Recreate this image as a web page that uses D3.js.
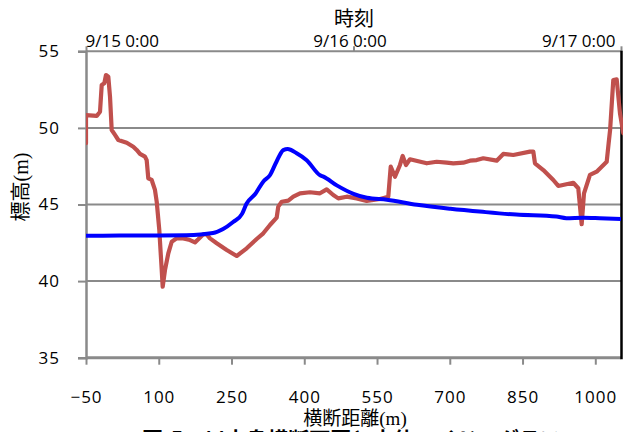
<!DOCTYPE html>
<html><head><meta charset="utf-8">
<script src="https://cdn.jsdelivr.net/npm/d3@7"></script>
<style>
html,body{margin:0;padding:0;background:#fff;overflow:hidden}
svg{display:block}
</style></head>
<body>
<svg id="c" width="623" height="432"></svg>
<script>
// Cross-section (横断距離 m vs 標高 m)
const sectionDist = [-50,-50,-27.9,-21.1,-17.6,-12.3,-8.8,-4.0,-0.5,3.0,9.8,16.6,33.9,47.5,54.5,61.3,71.6,75.1,78.4,85.4,92.2,95.8,101.1,106.1,108.1,112.9,119.7,126.7,137.0,150.6,164.4,174.7,181.5,191.8,198.8,205.6,219.5,240.1,260.7,281.3,301.9,315.5,329.3,343.1,346.4,353.5,367.1,377.4,391.2,411.8,432.4,446.2,459.8,470.1,487.5,508.1,528.7,556.1,573.2,578.2,587.0,597.3,602.9,609.7,617.9,652.4,673.0,693.6,707.2,727.8,741.6,755.4,769.1,796.7,810.3,830.9,865.3,872.2,875.6,892.8,913.4,923.7,954.6,964.9,971.9,976.7,989.0,1002.8,1023.5,1027.5,1030.5,1037.1,1044.1,1050.9,1057.7];
const sectionElev = [49.0,50.84,50.78,51.06,52.80,52.91,53.45,53.34,52.04,49.86,49.54,49.21,49.03,48.77,48.56,48.30,48.12,47.90,46.71,46.60,45.95,45.18,43.34,40.73,39.63,40.73,41.81,42.57,42.79,42.79,42.68,42.53,42.73,43.05,43.05,42.79,42.47,42.03,41.64,42.14,42.75,43.12,43.66,44.14,44.86,45.18,45.25,45.51,45.73,45.80,45.73,45.99,45.62,45.40,45.51,45.40,45.23,45.36,45.51,47.47,46.81,47.58,48.17,47.58,47.95,47.69,47.79,47.73,47.69,47.73,47.86,47.90,48.02,47.86,48.30,48.23,48.45,48.45,47.69,47.25,46.60,46.21,46.42,46.06,43.71,45.73,46.93,47.14,47.79,49.0,49.86,53.13,53.17,50.95,49.65];

// Water level hydrograph (hours since 9/15 0:00 vs 標高 m)
const levelHours = [0,3,6,9,11.4,12.3,13.2,14.0,14.4,15.2,15.9,16.5,17.1,17.7,18.1,18.9,19.8,21.0,21.3,22.5,24.0,25.2,27.0,29.7,32.7,35.6,38.6,42.2,43.1,44.6,46.1,48];
const levelValues = [42.96,42.97,42.98,43.0,43.14,43.40,43.86,44.39,45.05,45.70,46.49,46.91,47.81,48.55,48.62,48.34,47.89,46.91,46.82,46.25,45.70,45.44,45.31,44.98,44.72,44.52,44.34,44.21,44.11,44.14,44.11,44.06];

const xTicks = [-50,100,250,400,550,700,850,1000];
const yTicks = [35,40,45,50,55];
const timeTickLabels = ["9/15 0:00","9/16 0:00","9/17 0:00"];
const timeTickHours = [0,24,48];

const svg = d3.select("#c");
const L = 86, R = 621, T = 51.3, B = 357.7;
const t0 = new Date(2000,8,15,0,0);
const toDate = h => new Date(t0.getTime() + h*3600000);

const x = d3.scaleLinear().domain([-50,1000]).range([L,595.3]);
const y = d3.scaleLinear().domain([35,55]).range([B,T]);
const xt = d3.scaleTime().domain([toDate(0),toDate(48)]).range([L,R]);

const numFont = "'Open Sans', sans-serif";
const jpFont = "'Liberation Serif','Noto Sans CJK JP',serif";

// gridlines
svg.append("g").selectAll("line").data(yTicks).join("line")
  .attr("x1",L).attr("x2",R).attr("y1",d=>y(d)).attr("y2",d=>y(d))
  .attr("stroke","#8a8a8a").attr("stroke-width",d=>d===35?3:2);

// left axis
const ya = svg.append("g").attr("transform",`translate(${L},0)`)
  .call(d3.axisLeft(y).tickValues(yTicks).tickSize(8).tickPadding(18));
ya.select(".domain").attr("stroke","#8a8a8a").attr("stroke-width",2.5);
ya.selectAll(".tick line").attr("stroke","#8a8a8a").attr("stroke-width",2);
ya.selectAll(".tick text").attr("font-family",numFont).attr("font-size",17).attr("fill","#000").attr("letter-spacing","1px");

// bottom axis
const xa = svg.append("g").attr("transform",`translate(0,${B})`)
  .call(d3.axisBottom(x).tickValues(xTicks).tickSize(7).tickPadding(26).tickFormat(d3.format("d")));
xa.select(".domain").remove();
xa.selectAll(".tick line").attr("stroke","#8a8a8a").attr("stroke-width",2);
xa.selectAll(".tick text").attr("font-family",numFont).attr("font-size",17).attr("fill","#000").attr("letter-spacing","1px");

// top time axis
const ta = svg.append("g").attr("transform",`translate(0,${T})`)
  .call(d3.axisTop(xt).tickValues(timeTickHours.map(toDate)).tickSize(5).tickPadding(0)
    .tickFormat((d,i)=>timeTickLabels[i]));
ta.select(".domain").remove();
ta.selectAll(".tick line").attr("stroke","#8a8a8a").attr("stroke-width",2);
ta.selectAll(".tick text").attr("font-family",numFont).attr("font-size",17).attr("fill","#000")
  .attr("text-anchor",(d,i)=>i===0?"start":(i===timeTickLabels.length-1?"end":"middle"))
  .attr("dx",(d,i)=>i===0?-1:(i===timeTickLabels.length-1?-6:-4))
  .attr("y",-4.5);

// right border line
svg.append("line").attr("x1",R+0.5).attr("x2",R+0.5).attr("y1",T-0.5).attr("y2",B+1.5)
  .attr("stroke","#000").attr("stroke-width",2.5);

// clip
svg.append("clipPath").attr("id","clip").append("rect").attr("x",L).attr("y",0).attr("width",623-L).attr("height",432);

const g = svg.append("g").attr("clip-path","url(#clip)");
const secLine = d3.line().x((d,i)=>x(sectionDist[i])).y((d,i)=>y(sectionElev[i]));
g.append("path").attr("d",secLine(sectionDist)).attr("fill","none")
  .attr("stroke","#C0504D").attr("stroke-width",4.2).attr("stroke-linejoin","round").attr("stroke-linecap","round");

const lvLine = d3.line().curve(d3.curveMonotoneX).x((d,i)=>xt(toDate(levelHours[i]))).y((d,i)=>y(levelValues[i]));
g.append("path").attr("d",lvLine(levelHours)).attr("fill","none")
  .attr("stroke","#0000FF").attr("stroke-width",4).attr("stroke-linejoin","round");

// titles
svg.append("text").attr("x",354).attr("y",26).attr("text-anchor","middle")
  .attr("font-family",jpFont).attr("font-size",20).text("時刻");
svg.append("text").attr("transform","translate(28,187) rotate(-90)").attr("text-anchor","middle")
  .attr("font-family",jpFont).attr("font-size",20).text("標高(m)");
svg.append("text").attr("x",355).attr("y",425).attr("text-anchor","middle")
  .attr("font-family",jpFont).attr("font-size",19).text("横断距離(m)");
svg.append("text").attr("x",142).attr("y",447).attr("text-anchor","start")
  .attr("font-family","'Noto Sans CJK JP',sans-serif").attr("font-weight","bold").attr("font-size",21)
  .text("図-5　川中島横断面図と水位ハイドログラフ");
</script>
</body></html>
